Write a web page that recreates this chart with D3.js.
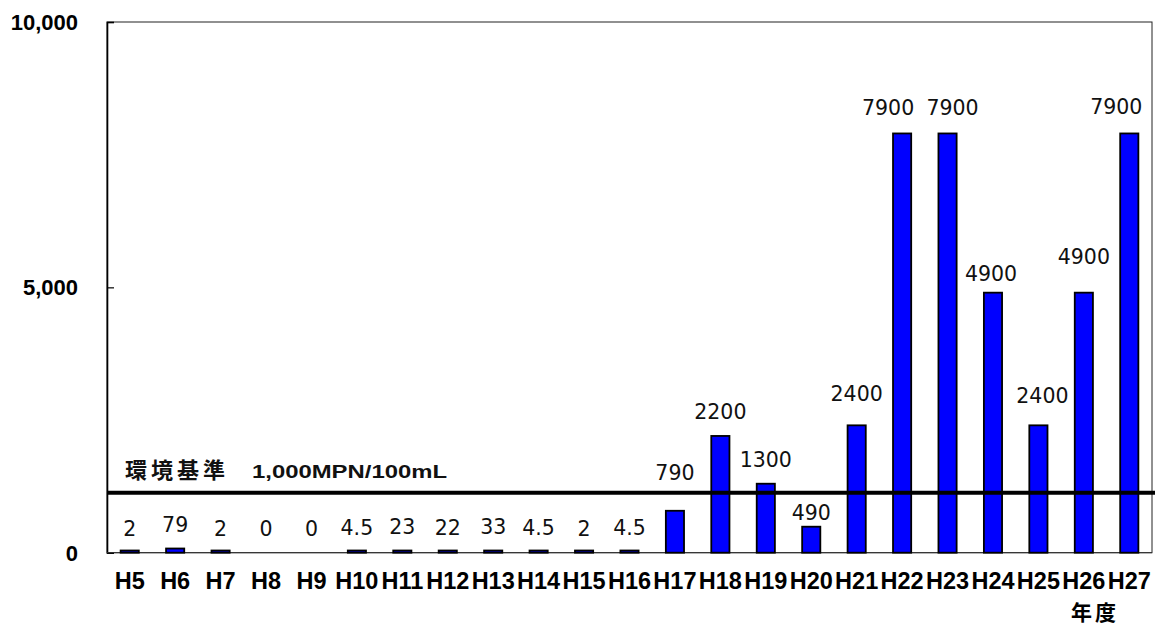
<!DOCTYPE html>
<html>
<head>
<meta charset="utf-8">
<script src="https://cdn.jsdelivr.net/npm/d3@7"></script>
<style>
  html, body { margin: 0; padding: 0; background: #fff; }
  svg { display: block; }
</style>
</head>
<body>
<svg id="chart" width="1156" height="626"></svg>
<script>
// ---- data ----
const categories = ["H5","H6","H7","H8","H9","H10","H11","H12","H13","H14","H15","H16",
                    "H17","H18","H19","H20","H21","H22","H23","H24","H25","H26","H27"];
const values = [2, 79, 2, 0, 0, 4.5, 23, 22, 33, 4.5, 2, 4.5,
                790, 2200, 1300, 490, 2400, 7900, 7900, 4900, 2400, 4900, 7900];
const yTicks = [0, 5000, 10000];
const standardLineValue = 1130;          // where the standard line sits on the value axis
const standardLabel = "環境基準";
const standardText = "1,000MPN/100mL";
const xAxisTitle = "年度";

// ---- layout (label nudges, px) ----
const labelDx = [0,0,0,0,0,0,0,0,0,0,0,0, 0,0,0,0,0,-14,5,-2,4,0,-13];
const labelDy = [0,0,0,0,0,0,0,0,0,0,0,0, -14,0,0,10,-7,-1.5,-1.5,5,-5,-12,-2.5];

const svg = d3.select("#chart");
const pLeft = 107, pRight = 1152, pTop = 22, pBottom = 552.7;
const minBarPx = 2.2;

const x = d3.scaleBand().domain(categories).range([pLeft, pRight])
  .paddingInner(0.6).paddingOuter(0.3);
const y = d3.scaleLinear().domain([0, 10000]).range([pBottom, pTop]);

// frame
svg.append("rect")
  .attr("x", pLeft).attr("y", pTop)
  .attr("width", pRight - pLeft).attr("height", pBottom - pTop)
  .attr("fill", "none").attr("stroke", "#222").attr("stroke-width", 1);

// y axis
const yAxis = d3.axisRight(y).tickValues(yTicks).tickSize(7).tickFormat("");
const ya = svg.append("g").attr("transform", `translate(${pLeft},0)`).call(yAxis);
ya.select(".domain").attr("stroke", "#000").attr("stroke-width", 1.6);
ya.selectAll(".tick line").attr("stroke", "#000").attr("stroke-width", 1.2);

svg.append("g").selectAll("text").data(yTicks).join("text")
  .attr("x", 78).attr("y", d => y(d)).attr("dy", "0.36em")
  .attr("text-anchor", "end")
  .attr("font-family", "Liberation Sans, Arial, sans-serif")
  .attr("font-weight", "bold").attr("font-size", 22)
  .attr("fill", "#000")
  .text(d => d3.format(",")(d));

// x axis line
svg.append("line")
  .attr("x1", pLeft).attr("x2", pRight).attr("y1", pBottom).attr("y2", pBottom)
  .attr("stroke", "#333").attr("stroke-width", 1);

// bars
svg.append("g").selectAll("rect")
  .data(categories.map((c, i) => ({c, v: values[i]})).filter(d => d.v > 0))
  .join("rect")
  .attr("x", d => x(d.c))
  .attr("y", d => Math.min(y(d.v), pBottom - minBarPx))
  .attr("width", x.bandwidth())
  .attr("height", d => Math.max(pBottom - y(d.v), minBarPx))
  .attr("fill", "#0000ff")
  .attr("stroke", "#000").attr("stroke-width", 1.8);

// standard line
svg.append("line")
  .attr("x1", pLeft).attr("x2", 1155)
  .attr("y1", y(standardLineValue)).attr("y2", y(standardLineValue))
  .attr("stroke", "#000").attr("stroke-width", 4);

svg.append("text")
  .attr("x", 125).attr("y", 477.5)
  .attr("font-family", "Noto Sans CJK JP, sans-serif")
  .attr("font-weight", "bold").attr("font-size", 22)
  .attr("letter-spacing", 4)
  .attr("fill", "#111")
  .text(standardLabel);
svg.append("text")
  .attr("x", 252).attr("y", 477.5)
  .attr("font-family", "Liberation Sans, Arial, sans-serif")
  .attr("font-weight", "bold").attr("font-size", 18.5)
  .attr("textLength", 195).attr("lengthAdjust", "spacingAndGlyphs")
  .attr("fill", "#111")
  .text(standardText);

// value labels
svg.append("g").selectAll("text")
  .data(categories.map((c, i) => ({c, v: values[i], i})))
  .join("text")
  .attr("x", d => x(d.c) + x.bandwidth() / 2 + labelDx[d.i])
  .attr("y", d => y(d.v) - 17 + labelDy[d.i])
  .attr("text-anchor", "middle")
  .attr("font-family", "DejaVu Sans, sans-serif")
  .attr("font-size", 20.5)
  .attr("fill", "#111")
  .text(d => String(d.v));

// category labels
svg.append("g").selectAll("text").data(categories).join("text")
  .attr("x", d => x(d) + x.bandwidth() / 2)
  .attr("y", 588.5)
  .attr("text-anchor", "middle")
  .attr("font-family", "Liberation Sans, Arial, sans-serif")
  .attr("font-weight", "bold").attr("font-size", 23.5)
  .attr("fill", "#000")
  .text(d => d);

// x axis title
svg.append("text")
  .attr("x", 1095).attr("y", 620)
  .attr("text-anchor", "middle")
  .attr("font-family", "Noto Sans CJK JP, sans-serif")
  .attr("font-weight", "bold").attr("font-size", 21)
  .attr("letter-spacing", 3)
  .attr("fill", "#000")
  .text(xAxisTitle);
</script>
</body>
</html>
